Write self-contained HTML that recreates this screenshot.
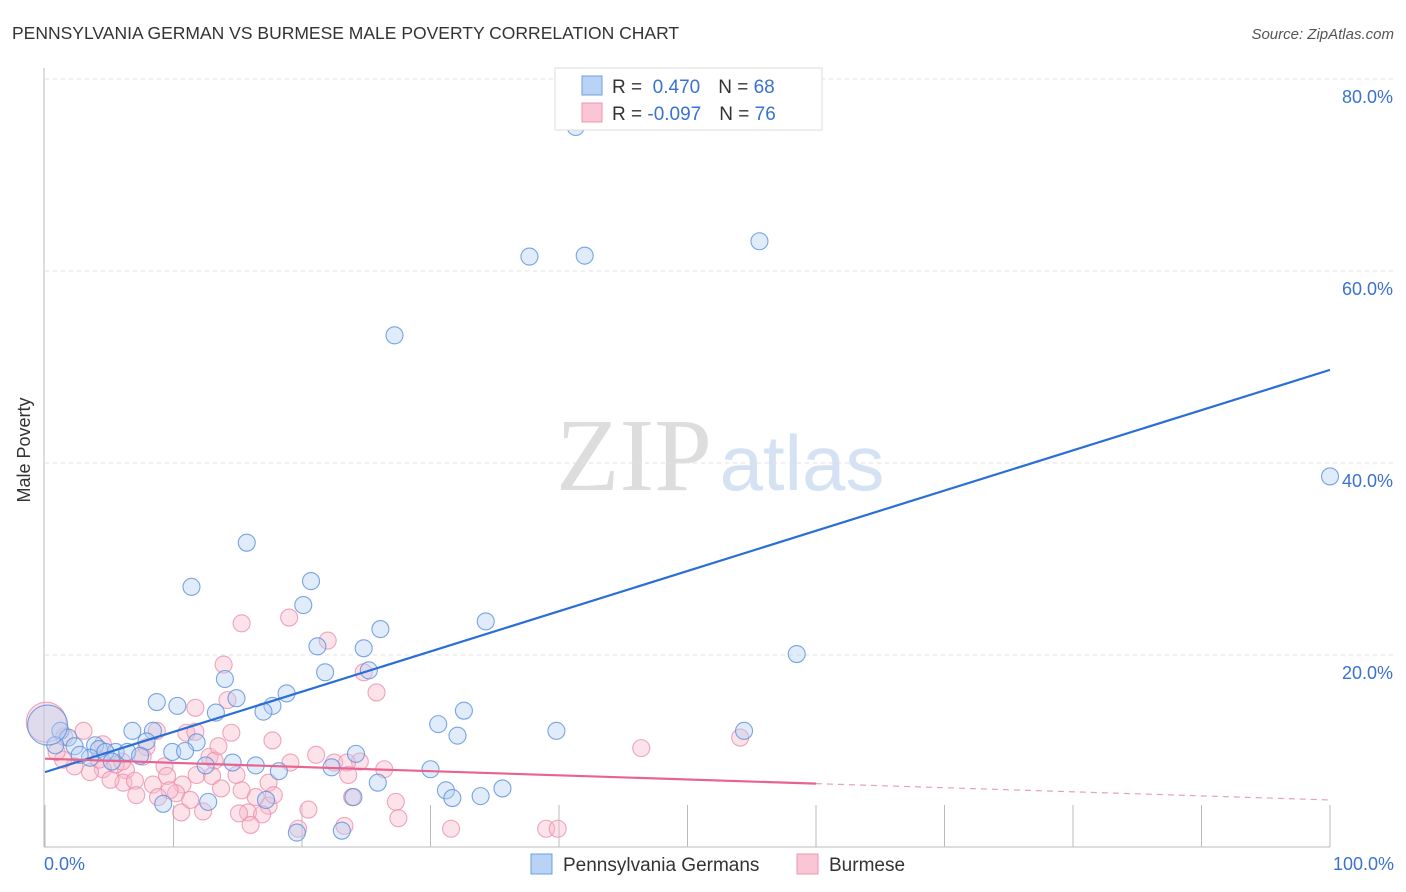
<!DOCTYPE html>
<html><head><meta charset="utf-8">
<style>
body{margin:0;background:#fff;font-family:"Liberation Sans",sans-serif;}
#wrap{position:relative;width:1406px;height:892px;overflow:hidden;}
</style></head>
<body>
<div id="wrap">
<svg id="svg" width="1406" height="892" xmlns="http://www.w3.org/2000/svg">
<text x="12" y="39" font-size="17.5" fill="#333">PENNSYLVANIA GERMAN VS BURMESE MALE POVERTY CORRELATION CHART</text>
<text x="1394" y="39" font-size="15" fill="#555" font-style="italic" text-anchor="end">Source: ZipAtlas.com</text>
<text x="36" y="456" font-size="18" fill="#333" text-anchor="middle" transform="rotate(-90 30 456)">Male Poverty</text>
<g><text x="634" y="490" font-size="104" fill="#ddd" font-family="Liberation Serif,serif" text-anchor="middle">ZIP</text><text x="802" y="490" font-size="78" fill="#d4e2f4" text-anchor="middle">atlas</text></g>
<g id="grid"></g><g id="pts"></g><g id="lines"></g>
<g>
<rect x="555" y="68" width="267" height="62" fill="#fff" stroke="#ddd"/>
<rect x="582" y="76" width="20" height="19" fill="#b8d3f5" stroke="#6d9fe0"/>
<rect x="582" y="103" width="20" height="19" fill="#fac5d4" stroke="#ef95b0"/>
<text x="612" y="93" font-size="19" fill="#333">R = <tspan fill="#3a72d0">&#160;0.470</tspan><tspan dx="18">N = </tspan><tspan fill="#3a72d0">68</tspan></text>
<text x="612" y="120" font-size="19" fill="#333">R = <tspan fill="#3a72d0">-0.097</tspan><tspan dx="18">N = </tspan><tspan fill="#3a72d0">76</tspan></text>
</g>
<g>
<rect x="531" y="854" width="21" height="20" fill="#b8d3f5" stroke="#6d9fe0"/>
<text x="563" y="871" font-size="19" fill="#333">Pennsylvania Germans</text>
<rect x="797" y="854" width="21" height="20" fill="#fac5d4" stroke="#ef95b0"/>
<text x="829" y="871" font-size="19" fill="#333">Burmese</text>
</g>
</svg>
</div>
<script>
const xTicks=[0,10,20,30,40,50,60,70,80,90,100];
const yTicks=[20,40,60,80];
const blueX=[41.3,37.7,42.0,55.6,27.2,100,15.7,11.4,20.7,20.1,34.3,26.1,21.2,24.8,58.5,21.8,25.2,14.0,18.8,14.9,8.7,10.3,17.7,17.0,13.3,32.6,30.6,32.1,39.8,54.4,6.8,8.4,1.2,1.8,0.8,2.3,3.9,7.9,11.8,9.9,10.9,5.5,6.4,4.2,3.5,24.2,7.4,12.5,14.6,16.4,18.2,22.3,30.0,25.9,31.2,35.6,31.7,33.9,24.0,17.2,12.7,9.2,19.6,23.1,4.7,2.7,0.2,5.2];
const blueY=[75.0,61.5,61.6,63.1,53.3,38.6,31.7,27.1,27.7,25.2,23.5,22.7,20.9,20.7,20.1,18.2,18.4,17.5,16.0,15.5,15.1,14.7,14.7,14.1,14.0,14.2,12.8,11.6,12.1,12.1,12.1,12.1,12.1,11.4,10.6,10.5,10.6,11.0,10.9,9.9,10.0,9.9,9.9,10.2,9.3,9.7,9.5,8.5,8.8,8.5,7.9,8.3,8.1,6.7,5.9,6.1,5.1,5.3,5.2,4.9,4.7,4.5,1.5,1.7,9.9,9.6,12.7,8.9];
const pinkX=[0.1,15.3,19.0,22.0,13.9,24.8,25.8,14.2,11.7,11.0,14.5,17.7,8.7,3.0,7.9,46.4,54.1,21.1,22.5,24.5,26.4,12.8,13.2,9.3,9.5,14.9,11.8,13.0,6.3,5.5,4.5,3.5,2.3,1.4,0.9,6.1,7.0,5.1,8.4,10.7,10.2,9.7,7.1,8.8,11.3,13.7,23.5,23.6,17.4,16.4,17.4,15.8,15.1,16.9,16.0,12.3,10.6,20.5,23.9,27.3,27.5,23.3,19.7,31.6,39.0,39.9,1.5,4.5,7.6,19.1,11.7,13.5,15.3,6.0,4.2,17.8];
const pinkY=[13.0,23.3,23.9,21.5,19.0,18.2,16.1,15.3,14.5,11.9,11.9,11.1,12.1,12.1,10.4,10.3,11.4,9.6,8.8,8.9,8.1,9.4,9.0,8.4,7.4,7.5,7.5,7.4,8.0,8.6,8.1,7.8,8.4,9.1,9.9,6.7,6.9,7.0,6.5,6.5,5.6,5.9,5.4,5.2,4.9,6.1,8.8,7.5,6.7,5.2,4.3,3.6,3.5,3.4,2.3,3.7,3.6,3.9,5.2,4.7,3.0,2.2,1.9,1.9,1.9,1.9,11.5,10.7,9.4,8.8,12.0,10.5,5.9,8.9,9.1,5.4];
const blueFit=[0,100,7.8,49.7];
const pinkFit=[0,60,100,9.2,6.6,4.9];
const NS='http://www.w3.org/2000/svg';
const X=v=>45+v*12.85, Y=v=>847-v*9.6;
function mk(t,a,p){const e=document.createElementNS(NS,t);for(const k in a)e.setAttribute(k,a[k]);p.appendChild(e);return e;}
const grid=document.getElementById('grid'),pts=document.getElementById('pts'),lines=document.getElementById('lines');
yTicks.forEach(v=>{
 const l=mk('line',{x1:45,x2:1394,y1:Y(v),y2:Y(v),stroke:'#e2e2e2','stroke-dasharray':'4,4'},grid);
 
 
 const t=mk('text',{x:1393,y:Y(v)+24,'font-size':18,fill:'#3a72d0','text-anchor':'end'},grid);t.textContent=v.toFixed(1)+'%';
 
 
});
const ax=mk('line',{x1:44,x2:44,y1:68,y2:847,stroke:'#bbb'},grid);


const bx=mk('line',{x1:44,x2:1330,y1:847,y2:847,stroke:'#bbb'},grid);


xTicks.forEach(v=>{
 const l=mk('line',{x1:X(v),x2:X(v),y1:805,y2:847,stroke:'#bbb'},grid);
 
 
});
[[0,'0.0%','start',44],[100,'100.0%','end',1394]].forEach(a=>{
 const t=mk('text',{x:a[3],y:870,'font-size':18,fill:'#3a72d0','text-anchor':a[2]},grid);t.textContent=a[1];
 
 
});
function dots(xs,ys,fill,stroke,name){xs.forEach((x,i)=>{
 const r=(x<0.5)?20:8.5;
 const c=mk('circle',{cx:X(x),cy:Y(ys[i]),r:r,fill:fill,'fill-opacity':0.4,stroke:stroke,'stroke-opacity':0.8,'stroke-width':1.1},pts);
 
 
});}
dots(pinkX,pinkY,'#f8b8cb','#ec8fac','burmese-point');
dots(blueX,blueY,'#b5d0f3','#5a8fdc','pennsylvania-german-point');
const bl=mk('line',{x1:X(blueFit[0]),y1:Y(blueFit[2]),x2:X(blueFit[1]),y2:Y(blueFit[3]),stroke:'#2a6fd6','stroke-width':2.2},lines);


const pl=mk('line',{x1:X(pinkFit[0]),y1:Y(pinkFit[3]),x2:X(pinkFit[1]),y2:Y(pinkFit[4]),stroke:'#e8638e','stroke-width':2.2},lines);


const pd=mk('line',{x1:X(pinkFit[1]),y1:Y(pinkFit[4]),x2:X(pinkFit[2]),y2:Y(pinkFit[5]),stroke:'#e8a0b8','stroke-width':1.2,'stroke-dasharray':'6,5'},lines);


</script>
</body></html>
